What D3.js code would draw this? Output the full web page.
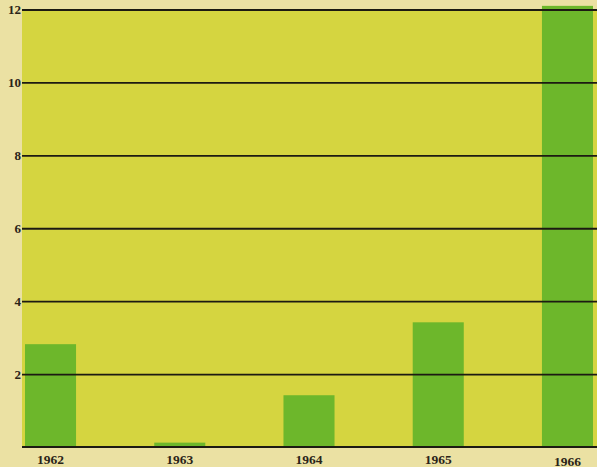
<!DOCTYPE html>
<html>
<head>
<meta charset="utf-8">
<script src="https://cdn.jsdelivr.net/npm/d3@7"></script>
<style>
  html, body { margin: 0; padding: 0; background: #ebe1a3; }
  svg { display: block; }
  text { font-family: "Liberation Serif", "DejaVu Serif", serif; font-weight: bold; fill: #2a2418; }
</style>
</head>
<body>
<script>
const years = ["1962", "1963", "1964", "1965", "1966"];
const values = [2.82, 0.12, 1.42, 3.42, 12.1];
const yTicks = [2, 4, 6, 8, 10, 12];

const W = 597, H = 467;
const plot = { left: 22, right: 597, top: 9.5, bottom: 447 };

const svg = d3.select("body").append("svg").attr("width", W).attr("height", H);

svg.append("rect").attr("width", W).attr("height", H).attr("fill", "#ebe1a3");

const x = d3.scaleBand().domain(years).range([25, 593]).paddingInner(0.605).paddingOuter(0);
const y = d3.scaleLinear().domain([0, 12]).range([plot.bottom, plot.top]);

// plot background
svg.append("rect")
  .attr("x", plot.left).attr("y", y(12))
  .attr("width", plot.right - plot.left).attr("height", y(0) - y(12))
  .attr("fill", "#d5d540");

// bars
svg.append("g").selectAll("rect").data(years).join("rect")
  .attr("x", d => x(d))
  .attr("width", x.bandwidth())
  .attr("y", (d, i) => y(values[i]))
  .attr("height", (d, i) => y(0) - y(values[i]))
  .attr("fill", "#6db72b");

// gridlines
const yAxis = d3.axisLeft(y).tickValues(yTicks).tickSize(-(plot.right - plot.left)).tickPadding(1);
const gy = svg.append("g").attr("transform", `translate(${plot.left},0)`).call(yAxis);
gy.select(".domain").remove();
gy.selectAll(".tick line").attr("stroke", "#1c1a12").attr("stroke-width", 1.8);
gy.selectAll(".tick text").style("font-size", "13px").attr("fill", "#2a2418");

// baseline
svg.append("line")
  .attr("x1", plot.left).attr("x2", plot.right)
  .attr("y1", y(0)).attr("y2", y(0))
  .attr("stroke", "#1c1a12").attr("stroke-width", 1.8);

// x labels
const xAxis = d3.axisBottom(x).tickSize(0).tickPadding(0);
const gx = svg.append("g").attr("transform", `translate(0,${y(0)})`).call(xAxis);
gx.select(".domain").remove();
gx.selectAll(".tick text").style("font-size", "13.5px").attr("fill", "#2a2418")
  .attr("y", (d, i) => i === 4 ? 18.5 : 17).attr("dy", 0);
</script>
</body>
</html>
